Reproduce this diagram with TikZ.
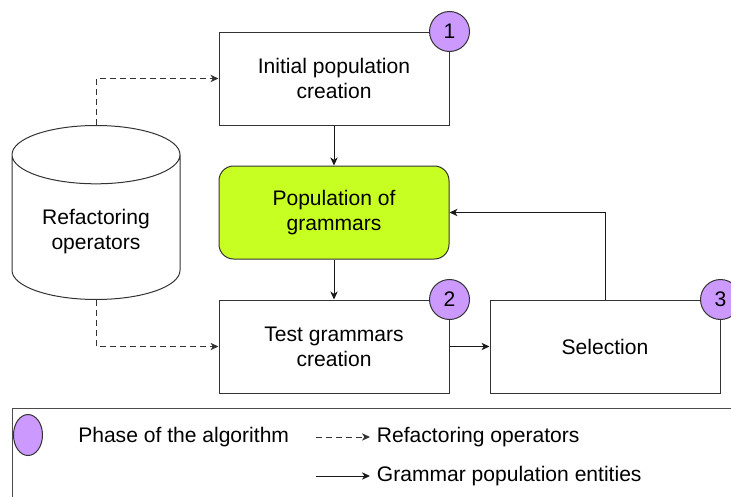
\documentclass[tikz,border=0pt]{standalone}
\usepackage{fontspec}
\setmainfont{Liberation Sans}
\usetikzlibrary{positioning, shapes.geometric, arrows.meta}
\definecolor{popgreen}{HTML}{C8FF22}
\definecolor{phasepurple}{HTML}{CC99FF}
\tikzset{
    >={Stealth[length=6pt, width=5.5pt, inset=1.8pt]}, % makes the arrow heads bold
    every node/.style={font=\fontsize{15.8}{18.75}\selectfont},
    process/.style={draw=black!80, line width=0.75pt, minimum width=172.5pt, minimum height=69.75pt, align=center}, % the step boxes
    population/.style={process, fill=popgreen, rounded corners=11pt},
    phase/.style={circle, draw=black!80, line width=0.75pt, fill=phasepurple, minimum size=30pt, inner sep=0pt},
    refop/.style={->, dash pattern=on 4.5pt off 3pt, draw=black!80, line width=0.75pt}, % refactoring operators
    flow/.style={->, draw=black!90, line width=0.75pt}, % grammar population entities
    node distance=30pt, % gap between two boxes
}

\begin{document}
\begin{tikzpicture}[x=0.75pt, y=-0.75pt]
    \useasboundingbox (0,0) rectangle (731,496);
    \node[process] (init) at (334,78.5) {Initial population\\creation};
    \node[population, below=of init] (pop) {Population of\\grammars};
    \node[process, below=of pop] (test) {Test grammars\\creation};
    \node[process, right=of test] (sel) {Selection};
    \node[cylinder, draw=black!80, line width=0.75pt, shape border rotate=90, shape aspect=0.5, minimum width=126pt, minimum height=130.5pt, align=center, anchor=north] (ops) at (96,125) {Refactoring\\operators};
    \draw[flow] (init) -- (pop);
    \draw[flow] (pop) -- (test);
    \draw[flow] (test) -- (sel);
    \draw[flow] (sel.north) |- (pop.east);
    \draw[refop] (ops.north) |- (init.west);
    \draw[refop] (ops.south) |- (test.west);
    \node[phase] (p1) at (init.north east) {1};
    \node[phase] (p2) at (test.north east) {2};
    \node[phase] (p3) at (sel.north east) {3};
    % legend
    \draw[draw=black!70, line width=0.75pt] (12,408) rectangle (760,530);
    \node[phase, ellipse, minimum width=21.75pt, minimum height=30.75pt] (legphase) at (28,435) {};
    \node[anchor=west, inner sep=0pt] (legphasetext) at (78,437) {Phase of the algorithm};
    \node[anchor=west, inner xsep=5pt, inner ysep=0pt] (legrefop) at (370,437) {Refactoring operators};
    \node[anchor=west, inner xsep=5pt, inner ysep=0pt] (legflow) at (370,476) {Grammar population entities};
    \coordinate (legrefopstart) at (316,437);
    \coordinate (legflowstart) at (316,476);
    \draw[refop] (legrefopstart) -- (legrefop.west);
    \draw[flow] (legflowstart) -- (legflow.west);
\end{tikzpicture}
\end{document}
